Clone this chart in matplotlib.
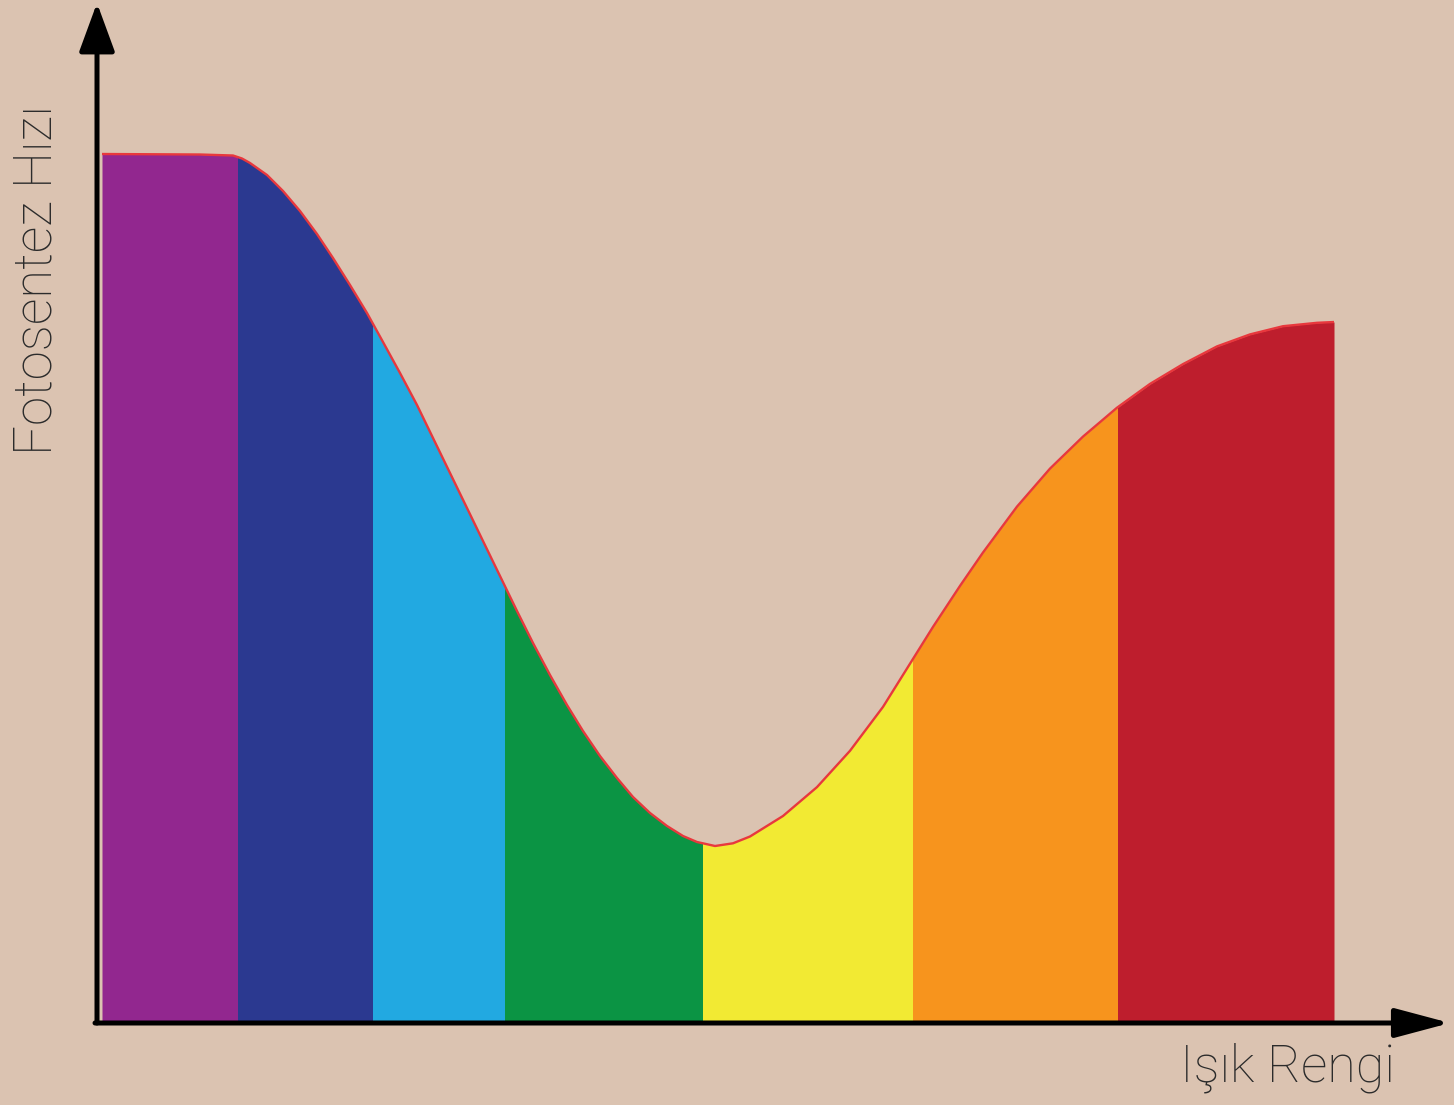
import numpy as np
import matplotlib
matplotlib.use('Agg')
import matplotlib.pyplot as plt
from matplotlib.patches import Rectangle

# curve (x: position along the spectrum, y: rate, arbitrary units)
curve_x = [0, 98, 131, 140, 148, 165, 181, 198, 215, 231, 248, 265, 281, 298, 315, 331,
           348, 365, 381, 398, 415, 431, 448, 465, 481, 498, 515, 531, 548, 565, 581, 595,
           613, 631, 648, 681, 715, 748, 781, 805, 831, 858, 881, 915, 948, 981, 1015,
           1048, 1081, 1115, 1148, 1181, 1215, 1232]
curve_y = [867, 866.5, 865.5, 862.5, 858, 846, 830, 810, 787, 763, 736, 708, 679, 648, 616,
           583, 548, 513, 480, 445, 410, 378, 346, 316, 290, 265, 243, 224, 208, 195, 185,
           179, 175, 177.7, 184.5, 205, 233.9, 270.2, 314.1, 352.5, 394.1, 435.1, 468.5,
           514.4, 552.4, 584.4, 613.3, 637.1, 656.9, 674.6, 686.6, 694.8, 698.2, 699]

# colour bands: mor, lacivert, mavi, yesil, sari, turuncu, kirmizi
band_edges = [0, 136, 271, 403, 601, 811, 1016, 1232]
band_colors = ['#92278f', '#2b3990', '#22a9e1', '#0b9444', '#f2ea33', '#f7941d', '#be1e2d']

bg = '#dbc3b1'
W, H = 1454, 1105

fig = plt.figure(figsize=(W / 100, H / 100), dpi=100, facecolor=bg)
# axes placed so the fill spans px 102..1334 horizontally, 154..1021 vertically
ax = fig.add_axes([102 / W, (H - 1021) / H, (1334 - 102) / W, (1021 - 154) / H])
ax.set_facecolor(bg)
ax.set_xlim(0, 1232)
ax.set_ylim(0, 867)
ax.axis('off')

for i, c in enumerate(band_colors):
    poly = ax.fill_between(curve_x, 0, curve_y, color=c, lw=0)
    clip = Rectangle((band_edges[i], -10), band_edges[i + 1] - band_edges[i], 900,
                     transform=ax.transData)
    poly.set_clip_path(clip)

ax.plot(curve_x, curve_y, color='#e8383d', lw=1.7, solid_capstyle='butt',
        solid_joinstyle='round', clip_on=False)

# axis arrows
arrow = dict(arrowstyle='-|>,head_length=0.6,head_width=0.22', color='black', lw=3.6,
             mutation_scale=50, shrinkA=0, shrinkB=0)
ax.annotate('', xy=(-5, 1018), xytext=(-5, -2), arrowprops=arrow, annotation_clip=False)
arrow_x = dict(arrow, arrowstyle='-|>,head_length=0.75,head_width=0.2', mutation_scale=45)
ax.annotate('', xy=(1348, -2), xytext=(-7, -2), arrowprops=arrow_x, annotation_clip=False)

font = ['Roboto', 'Liberation Sans', 'DejaVu Sans']
ylab = fig.text(37 / W, 1 - 280 / H, 'Fotosentez Hızı', rotation=90, ha='center',
                va='center', fontsize=36, family=font, weight='light', color='#2b2b2b')
xlab = fig.text(1288 / W, 1 - 1068 / H, 'Işık Rengi', ha='center', va='center',
                fontsize=36, family=font, weight='light', color='#2b2b2b')

# size the labels to the length they have in the picture
r = fig.canvas.get_renderer()
h = ylab.get_window_extent(r).height
ylab.set_fontsize(36 * 350 / h)
w = xlab.get_window_extent(r).width
xlab.set_fontsize(36 * 215 / w)

fig.savefig('out.png', dpi=100, facecolor=bg)
plt.close(fig)
